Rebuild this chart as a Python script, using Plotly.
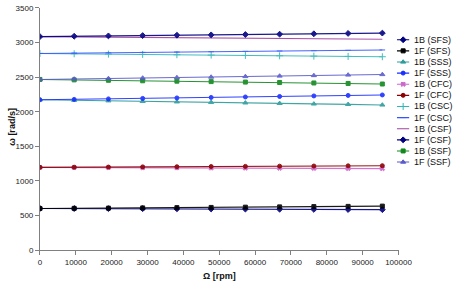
import plotly.graph_objects as go

W, H = 463, 291

omega_rpm = [0, 9549, 19099, 28648, 38197, 47746, 57296, 66845, 76394, 85944, 95493]

series_names = ["1B (SFS)", "1F (SFS)", "1B (SSS)", "1F (SSS)", "1B (CFC)", "1F (CFC)",
                "1B (CSC)", "1F (CSC)", "1B (CSF)", "1F (CSF)", "1B (SSF)", "1F (SSF)"]

b1_sfs = [602, 601, 600, 599, 597, 595, 593, 591, 589, 587, 585]
f1_sfs = [602, 604, 607, 610, 614, 617, 621, 625, 629, 632, 636]
b1_sss = [2172, 2166, 2158, 2150, 2143, 2136, 2128, 2121, 2113, 2106, 2098]
f1_sss = [2172, 2178, 2185, 2192, 2199, 2206, 2213, 2220, 2228, 2235, 2242]
b1_cfc = [1196, 1194, 1193, 1191, 1189, 1187, 1186, 1184, 1182, 1180, 1178]
f1_cfc = [1196, 1198, 1200, 1203, 1205, 1208, 1210, 1213, 1215, 1218, 1220]
b1_csc = [2842, 2837, 2832, 2828, 2823, 2818, 2813, 2808, 2803, 2799, 2794]
f1_csc = [2842, 2847, 2852, 2857, 2862, 2867, 2872, 2877, 2882, 2887, 2892]
b1_csf = [3085, 3081, 3077, 3073, 3069, 3065, 3062, 3058, 3054, 3050, 3046]
f1_csf = [3085, 3090, 3095, 3100, 3105, 3110, 3115, 3120, 3126, 3131, 3136]
b1_ssf = [2466, 2460, 2454, 2447, 2441, 2435, 2428, 2422, 2415, 2408, 2400]
f1_ssf = [2466, 2473, 2480, 2487, 2494, 2501, 2509, 2516, 2523, 2531, 2538]

series_values = [b1_sfs, f1_sfs, b1_sss, f1_sss, b1_cfc, f1_cfc,
                 b1_csc, f1_csc, b1_csf, f1_csf, b1_ssf, f1_ssf]

x_ticks = [0, 10000, 20000, 30000, 40000, 50000, 60000, 70000, 80000, 90000, 100000]
y_ticks = [0, 500, 1000, 1500, 2000, 2500, 3000, 3500]

# style: (line colour, marker symbol, marker colour, marker size)
styles = [
    ("#000080", "diamond", "#000080", 4.5),
    ("#000000", "square", "#000000", 4),
    ("#2E9C9C", "triangle-up", "#2E9C9C", 4.5),
    ("#1A2EFF", "circle", "#1A2EFF", 4),
    ("#CC66CC", "x", "#CC66CC", 4),
    ("#8B0000", "circle", "#8B0000", 4),
    ("#33B5B5", "cross-thin", "#33B5B5", 5),
    ("#3355FF", "line-ew", "#3355FF", 4),
    ("#A040A0", None, None, 0),
    ("#000080", "diamond", "#000080", 4.5),
    ("#11881E", "square", "#11881E", 4),
    ("#5A5ACC", "triangle-up", "#5A5ACC", 4.5),
]

def px_x(p):
    return p / W

def px_y(p):
    return 1 - p / H

fig = go.Figure()

for name, vals, st in zip(series_names, series_values, styles):
    lc, sym, mc, ms = st
    marker = dict(symbol=sym, color=mc, size=ms, line=dict(color=mc, width=1)) if sym else None
    fig.add_trace(go.Scatter(
        x=omega_rpm, y=vals, name=name,
        mode="lines+markers" if sym else "lines",
        line=dict(color=lc, width=1.1),
        marker=marker, showlegend=False, xaxis="x", yaxis="y",
        opacity=0.9,
    ))

# custom legend keys
for i, (name, st) in enumerate(zip(series_names, styles)):
    lc, sym, mc, ms = st
    fig.add_trace(go.Scatter(
        x=[0, 1], y=[i, i], mode="lines", line=dict(color=lc, width=1.1),
        showlegend=False, xaxis="x2", yaxis="y2", hoverinfo="skip",
    ))
    if sym:
        fig.add_trace(go.Scatter(
            x=[0.5], y=[i], mode="markers",
            marker=dict(symbol=sym, color=mc, size=ms, line=dict(color=mc, width=1)),
            showlegend=False, xaxis="x2", yaxis="y2", hoverinfo="skip",
        ))
    fig.add_annotation(
        x=px_x(425), y=i, xref="paper", yref="y2", text=name, showarrow=False,
        xanchor="left", yanchor="middle", font=dict(size=9, color="#111111"),
    )

axis_font = dict(size=8, color="#222222")
fig.update_layout(
    width=W, height=H,
    margin=dict(l=0, r=0, t=0, b=0),
    paper_bgcolor="white", plot_bgcolor="white",
    font=dict(family="Liberation Sans, Arial, sans-serif", size=8, color="#222222"),
    showlegend=False,
    xaxis=dict(
        domain=[px_x(39.3), px_x(410.7)], range=[0, 100000],
        tickvals=x_ticks, ticktext=[str(v) for v in x_ticks],
        showgrid=False, zeroline=False, showline=True, linecolor="#808080", linewidth=1,
        ticks="outside", ticklen=4, tickcolor="#808080", tickfont=axis_font,
        anchor="y", ticklabeloverflow="allow",
    ),
    yaxis=dict(
        domain=[px_y(254), px_y(4)], range=[0, 3500],
        tickvals=y_ticks, ticktext=[str(v) for v in y_ticks],
        showgrid=False, zeroline=False, showline=True, linecolor="#808080", linewidth=1,
        ticks="outside", ticklen=4, tickcolor="#808080", tickfont=axis_font,
        anchor="x", ticklabeloverflow="allow",
    ),
    xaxis2=dict(domain=[px_x(409), px_x(422)], range=[0, 1], visible=False,
                fixedrange=True, anchor="y2"),
    yaxis2=dict(domain=[px_y(170), px_y(30)], range=[11.6, -0.6], visible=False,
                fixedrange=True, anchor="x2"),
)

fig.add_annotation(
    x=px_x(10), y=px_y(127), xref="paper", yref="paper", text="<b>ω [rad/s]</b>",
    textangle=-90, showarrow=False, xanchor="center", yanchor="middle",
    font=dict(size=9, color="#111111"),
)
fig.add_annotation(
    x=px_x(225), y=px_y(281), xref="paper", yref="paper", text="<b>Ω [rpm]</b>",
    showarrow=False, xanchor="center", yanchor="middle",
    font=dict(size=9, color="#111111"),
)

fig.write_html("out.html")
